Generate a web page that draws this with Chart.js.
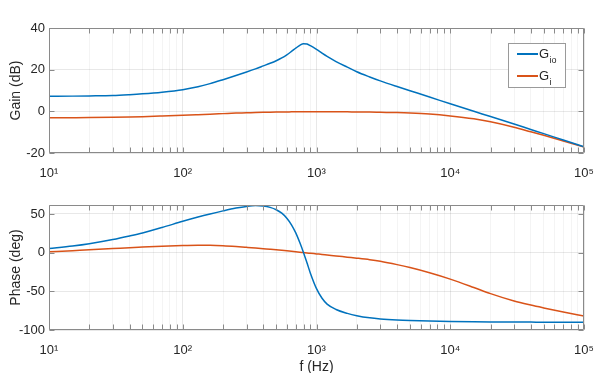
<!DOCTYPE html>
<html>
<head>
<meta charset="utf-8">
<title>Bode plot</title>
<script src="https://cdn.jsdelivr.net/npm/chart.js@4.4.0/dist/chart.umd.min.js"></script>
<style>
  html, body { margin: 0; padding: 0; background: #fff; overflow: hidden; }
  #wrap { position: relative; width: 600px; height: 373px; }
  canvas { position: absolute; left: 0; }
  #gainChart { top: 0; }
  #phaseChart { top: 190px; }
</style>
</head>
<body>
<div id="wrap">
  <canvas id="gainChart" width="600" height="190"></canvas>
  <canvas id="phaseChart" width="600" height="190"></canvas>
</div>
<script>
// frequency points (Hz), shared by all curves
const freq = [10, 15, 20, 30, 40, 50, 70,
              100, 130, 160, 200, 250, 300, 350, 400, 450, 500, 550, 600, 650, 700, 750, 800, 850, 900,
              1000, 1100, 1200, 1400, 1700, 2000, 2500, 3000, 4000, 5000, 7000,
              10000, 15000, 20000, 30000, 40000, 50000, 70000,
              100000];

// gain (dB)
const gainGio = [7.2, 7.3, 7.4, 7.6, 8.0, 8.4, 9.2,
                 10.4, 11.8, 13.3, 15.2, 17.2, 18.9, 20.4, 21.8, 23.05, 24.3, 25.65, 27.15, 28.75, 30.3, 31.7, 32.5, 32.3, 31.5,
                 29.7, 27.9, 26.35, 23.9, 21.2, 19.0, 16.5, 14.6, 11.9, 9.9, 6.9,
                 3.6, 0.0, -2.5, -6.1, -8.7, -10.7, -13.8,
                 -17.0];
const gainGi = [-3.1, -3.05, -3.0, -2.85, -2.7, -2.55, -2.25,
                -1.9, -1.6, -1.35, -1.1, -0.85, -0.7, -0.55, -0.45, -0.4, -0.35, -0.3, -0.3, -0.25, -0.25, -0.2, -0.2, -0.2, -0.2,
                -0.2, -0.2, -0.2, -0.2, -0.25, -0.3, -0.35, -0.45, -0.6, -0.8, -1.3,
                -2.2, -3.6, -5.0, -7.6, -9.8, -11.5, -14.2,
                -17.1];

// phase (deg)
const phaseGio = [5.2, 8.6, 11.6, 17.0, 21.6, 25.5, 32.5,
                  40.5, 46.0, 50.0, 54.0, 57.6, 59.8, 60.8, 60.3, 58.5, 55.5, 51.0, 44.5, 36.0, 25.5, 13.0, 0.0, -13.5, -26.5,
                  -46.5, -59.0, -66.5, -73.5, -78.5, -81.5, -84.3, -85.7, -87.1, -87.8, -88.5,
                  -89.0, -89.4, -89.6, -89.7, -89.8, -89.85, -89.9,
                  -90];
const phaseGi = [1.0, 2.6, 3.8, 5.3, 6.4, 7.2, 8.4,
                 9.3, 9.6, 9.5, 8.9, 7.9, 6.9, 6.0, 5.1, 4.3, 3.6, 3.0, 2.4, 1.8, 1.2, 0.6, 0.1, -0.4, -0.8,
                 -1.6, -2.3, -3.0, -4.2, -5.8, -7.1, -9.1, -11.2, -15.5, -19.3, -26.0,
                 -34.2, -45.0, -53.0, -62.5, -67.8, -71.5, -76.8,
                 -82.0];

// axes
const decades = [10, 100, 1000, 10000, 100000];
const decadeLabels = ['10¹', '10²', '10³', '10⁴', '10⁵'];
const minorSteps = [2, 3, 4, 5, 6, 7, 8, 9];
const gainTicks = [-20, 0, 20, 40];
const phaseTicks = [-100, -50, 0, 50];

const seriesNames = ['G_io', 'G_i'];
const colors = ['#0072BD', '#D95319'];

const axisColor = '#8a8a8a';
const textColor = '#262626';
const majorGrid = 'rgba(0,0,0,0.09)';
const minorGrid = 'rgba(0,0,0,0.045)';
const fontFamily = '"Liberation Sans", Arial, Helvetica, sans-serif';

Chart.defaults.font.family = fontFamily;
Chart.defaults.font.size = 13;
Chart.defaults.color = textColor;

// all x tick positions: decades plus 2..9 in between
const xTickValues = [];
decades.forEach((d, i) => {
    xTickValues.push(d);
    if (i < decades.length - 1) {
        minorSteps.forEach(m => xTickValues.push(d * m));
    }
});

function toPoints(ys) {
    return freq.map((f, i) => ({ x: f, y: ys[i] }));
}

// box around the plot area + inward tick marks (MATLAB style)
const boxPlugin = {
    id: 'box',
    afterDraw(chart) {
        const { ctx, chartArea: a, scales } = chart;
        const L = Math.round(a.left) + 0.5, R = Math.round(a.right) - 0.5;
        const T = Math.round(a.top) + 0.5, B = Math.round(a.bottom) - 0.5;
        const len = 5;
        ctx.save();
        ctx.strokeStyle = axisColor;
        ctx.lineWidth = 1;
        ctx.beginPath();
        ctx.rect(L, T, R - L, B - T);
        scales.x.ticks.forEach(t => {
            const px = Math.round(scales.x.getPixelForValue(t.value)) + 0.5;
            ctx.moveTo(px, B); ctx.lineTo(px, B - len);
            ctx.moveTo(px, T); ctx.lineTo(px, T + len);
        });
        scales.y.ticks.forEach(t => {
            const py = Math.round(scales.y.getPixelForValue(t.value)) + 0.5;
            ctx.moveTo(L, py); ctx.lineTo(L + len, py);
            ctx.moveTo(R, py); ctx.lineTo(R - len, py);
        });
        ctx.stroke();
        ctx.restore();
    }
};

// legend box with subscripts, placed inside the gain plot
const legendPlugin = {
    id: 'subLegend',
    afterDraw(chart) {
        const { ctx } = chart;
        const bx = 508.5, by = 43.5, bw = 57, bh = 44;
        ctx.save();
        ctx.fillStyle = '#fff';
        ctx.fillRect(bx, by, bw, bh);
        ctx.strokeStyle = '#9a9a9a';
        ctx.lineWidth = 1;
        ctx.strokeRect(bx, by, bw, bh);
        chart.data.datasets.forEach((ds, i) => {
            const ly = 54 + i * 22;
            ctx.strokeStyle = ds.borderColor;
            ctx.lineWidth = 2;
            ctx.beginPath();
            ctx.moveTo(517, ly);
            ctx.lineTo(538, ly);
            ctx.stroke();
            const [base, sub] = ds.label.split('_');
            ctx.fillStyle = textColor;
            ctx.textBaseline = 'alphabetic';
            ctx.textAlign = 'left';
            ctx.font = '13px ' + fontFamily;
            ctx.fillText(base, 539, ly + 4);
            const w = ctx.measureText(base).width;
            ctx.font = '9px ' + fontFamily;
            ctx.fillText(sub, 539 + w + 0.5, ly + 9);
        });
        ctx.restore();
    }
};

function xScale(height, withTitle) {
    return {
        type: 'logarithmic',
        min: 10,
        max: 100000,
        afterBuildTicks: scale => {
            scale.ticks = xTickValues.map(v => ({ value: v, major: decades.includes(v) }));
        },
        afterFit: scale => {
            scale.height = height;
            scale.paddingLeft = 0;
            scale.paddingRight = 0;
        },
        grid: {
            drawTicks: false,
            color: ctx => (ctx.tick && ctx.tick.major) ? majorGrid : minorGrid
        },
        border: { display: false },
        ticks: {
            autoSkip: false,
            maxRotation: 0,
            padding: 13,
            color: textColor,
            callback: value => {
                const i = decades.indexOf(value);
                return i >= 0 ? decadeLabels[i] : '';
            }
        },
        title: {
            display: withTitle,
            text: 'f (Hz)',
            font: { size: 14 },
            color: textColor,
            padding: { top: 0, bottom: 4.5 }
        }
    };
}

function yScale(min, max, tickList, titleText) {
    return {
        type: 'linear',
        min: min,
        max: max,
        afterBuildTicks: scale => {
            scale.ticks = tickList.map(v => ({ value: v }));
        },
        afterFit: scale => { scale.width = 49; },
        grid: { drawTicks: false, color: majorGrid },
        border: { display: false },
        ticks: { padding: 4, color: textColor },
        title: {
            display: true,
            text: titleText,
            font: { size: 14 },
            color: textColor,
            padding: { top: 8, bottom: 0 }
        }
    };
}

function makeDatasets(a, b) {
    return [a, b].map((ys, i) => ({
        label: seriesNames[i],
        data: toPoints(ys),
        borderColor: colors[i],
        borderWidth: 1.5,
        pointRadius: 0,
        fill: false,
        cubicInterpolationMode: 'monotone'
    }));
}

new Chart(document.getElementById('gainChart'), {
    type: 'line',
    data: { datasets: makeDatasets(gainGio, gainGi) },
    options: {
        responsive: false,
        animation: false,
        layout: { padding: { top: 28, right: 16, bottom: 0, left: 0 } },
        plugins: { legend: { display: false }, tooltip: { enabled: false } },
        scales: {
            x: xScale(37, false),
            y: yScale(-20, 40, gainTicks, 'Gain (dB)')
        }
    },
    plugins: [boxPlugin, legendPlugin]
});

new Chart(document.getElementById('phaseChart'), {
    type: 'line',
    data: { datasets: makeDatasets(phaseGio, phaseGi) },
    options: {
        responsive: false,
        animation: false,
        layout: { padding: { top: 15, right: 16, bottom: 0, left: 0 } },
        plugins: { legend: { display: false }, tooltip: { enabled: false } },
        scales: {
            x: xScale(50, true),
            y: yScale(-100, 61.6, phaseTicks, 'Phase (deg)')
        }
    },
    plugins: [boxPlugin]
});
</script>
</body>
</html>
